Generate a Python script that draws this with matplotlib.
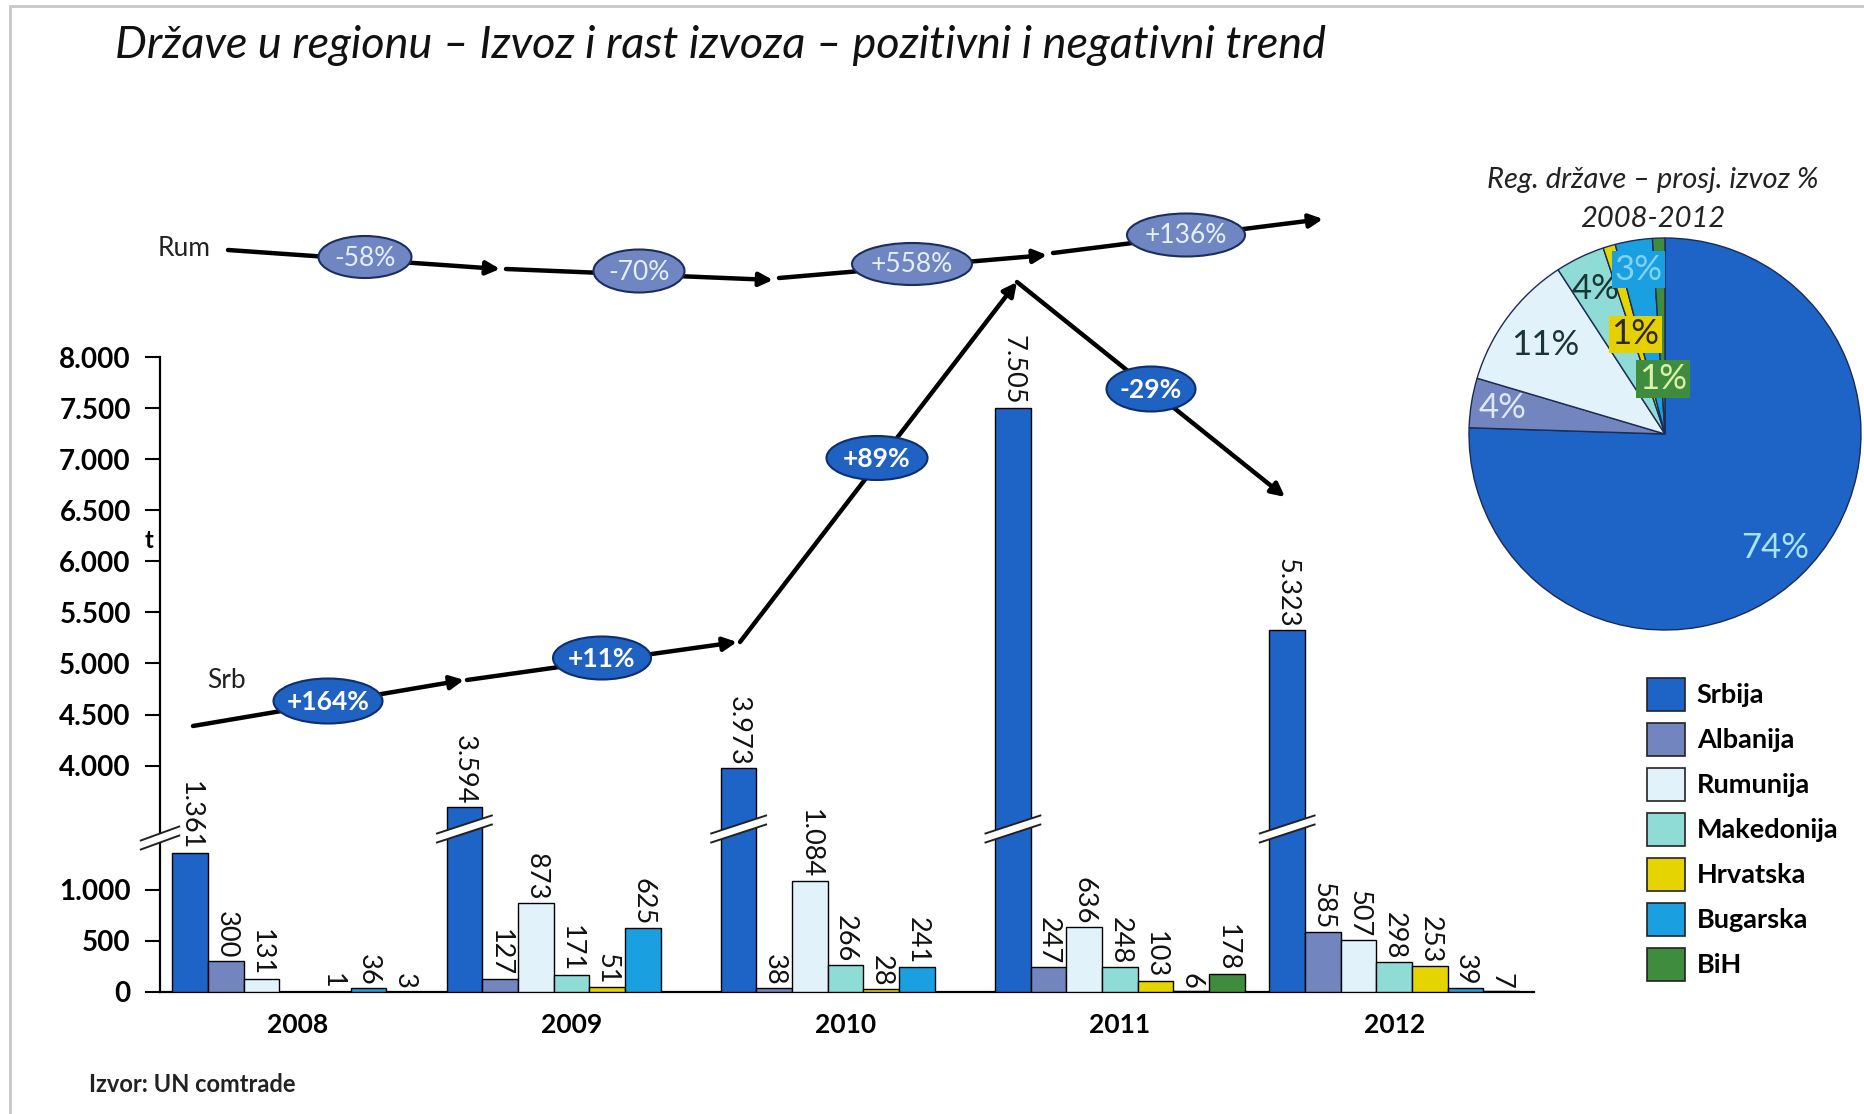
import numpy as np
import matplotlib
matplotlib.use("Agg")
import matplotlib.pyplot as plt
from matplotlib.patches import Patch, Polygon, Rectangle, FancyArrowPatch, Ellipse
import matplotlib.transforms as mtransforms

plt.rcParams['font.family'] = ['Lato', 'DejaVu Sans']

# data
years = ['2008', '2009', '2010', '2011', '2012']
countries = ['Srbija', 'Albanija', 'Rumunija', 'Makedonija', 'Hrvatska', 'Bugarska', 'BiH']
srbija = [1361, 3594, 3973, 7505, 5323]
albanija = [300, 127, 38, 247, 585]
rumunija = [131, 873, 1084, 636, 507]
makedonija = [np.nan, 171, 266, 248, 298]
hrvatska = [1, 51, 28, 103, 253]
bugarska = [36, 625, 241, 6, 39]
bih = [3, np.nan, np.nan, 178, 7]

pie_shares = [74, 4, 11, 4, 1, 3, 1]

srb_growth = ['+164%', '+11%', '+89%', '-29%']
rum_growth = ['-58%', '-70%', '+558%', '+136%']

colors = ['#1E63C6', '#7385BE', '#E2F2FA', '#8FDCD6', '#E6D400', '#1A9FE0', '#3F8C3F']

W, H = 1865, 1114


def fig_xy(px, py):
    # pixel position (top-left origin) -> figure fraction
    return px / W, 1 - py / H


# broken y axis: 0..1500 as is, 3400.. shifted down
LOW, HIGH, SHIFT = 1500, 3400, 1784


def fwd(v):
    return np.interp(v, [-1e5, LOW, HIGH, 1e5], [-1e5, LOW, HIGH - SHIFT, 1e5 - SHIFT])


def inv(d):
    return np.interp(d, [-1e5, LOW, HIGH - SHIFT, 1e5 - SHIFT], [-1e5, LOW, HIGH, 1e5])


def thousands(v):
    return f"{int(v):,}".replace(',', '.')


fig = plt.figure(figsize=(W / 100, H / 100), dpi=100)
fig.patch.set_facecolor('white')
fig.add_artist(Rectangle((10 / W, -0.1), 2, 1.1 - 6 / H, transform=fig.transFigure,
                         fill=False, ec='#C8C8C8', lw=2))

ax = fig.add_axes([160 / W, 1 - 992 / H, (1534 - 160) / W, (992 - 357) / H])
ax.set_yscale('function', functions=(fwd, inv))

series = [srbija, albanija, rumunija, makedonija, hrvatska, bugarska, bih]
x = np.arange(len(years))
w = 0.13
for i, (name, vals, c) in enumerate(zip(countries, series, colors)):
    xs = x + (i - 3) * w
    ax.bar(xs, vals, w, color=c, edgecolor='black', linewidth=1, label=name, zorder=3)
    for xi, v in zip(xs, vals):
        if np.isnan(v):
            continue
        ax.annotate(thousands(v), (xi, v), xytext=(0, 2), textcoords='offset points',
                    rotation=270, ha='center', va='bottom', fontsize=19.5, color='#111111')

ax.set_xlim(-0.5, 4.51)
ax.set_ylim(0, 8000)
yt = [0, 500, 1000, 4000, 4500, 5000, 5500, 6000, 6500, 7000, 7500, 8000]
ax.set_yticks(yt)
ax.set_yticklabels([thousands(v) for v in yt], fontweight='bold', fontsize=20)
ax.yaxis.set_minor_locator(matplotlib.ticker.NullLocator())
ax.set_xticks(x)
ax.set_xticklabels(years, fontweight='bold', fontsize=19)
ax.tick_params(axis='x', length=0, pad=15)
ax.tick_params(axis='y', length=11, width=1.5, pad=10, direction='out')
for s in ['top', 'right']:
    ax.spines[s].set_visible(False)
ax.spines['left'].set_linewidth(1.6)
ax.spines['bottom'].set_linewidth(1.6)

# break marks
bt = mtransforms.blended_transform_factory(ax.transData, ax.transAxes)


def break_mark(xc, yc, half=0.1, rise=0.0283, gap=0.0142):
    pts = [(xc - half, yc - rise / 2 - gap / 2), (xc + half, yc + rise / 2 - gap / 2),
           (xc + half, yc + rise / 2 + gap / 2), (xc - half, yc - rise / 2 + gap / 2)]
    ax.add_patch(Polygon(pts, closed=True, fc='white', ec='none', transform=bt,
                         zorder=6, clip_on=False))
    for a, b in [(pts[0], pts[1]), (pts[3], pts[2])]:
        ax.plot([a[0], b[0]], [a[1], b[1]], color='#222222', lw=1.4, transform=bt,
                zorder=7, clip_on=False)


for xi, v in zip(x - 3 * w, srbija):
    if v > HIGH:
        break_mark(xi, 0.2567)
break_mark(-0.5, 0.2425, half=0.07, rise=0.022)

# trend arrows (layout in pixels)
rum_segs = [((228, 250), (500, 269)), ((506, 269), (773, 280)),
            ((779, 278), (1047, 255)), ((1053, 253), (1323, 219))]
rum_boxes = [(365, 257, 93, 42), (639, 271, 91, 43), (912, 264, 120, 42), (1186, 235, 118, 43)]
srb_segs = [((193, 726), (464, 680)), ((467, 680), (737, 642)),
            ((740, 642), (1017, 282)), ((1017, 282), (1285, 497))]
srb_boxes = [(328, 701, 109, 45), (602, 658, 98, 43), (877, 458, 101, 44), (1151, 389, 89, 45)]

for segs in (rum_segs, srb_segs):
    for a, b in segs:
        fig.add_artist(FancyArrowPatch(fig_xy(*a), fig_xy(*b), transform=fig.transFigure,
                                       arrowstyle='-|>', mutation_scale=20, lw=3.2,
                                       color='black', shrinkA=0, shrinkB=0))


def bubble(box, lab, fc, ec, tc, weight):
    px, py, bw, bh = box
    fig.add_artist(Ellipse(fig_xy(px, py), bw / W, bh / H, transform=fig.transFigure,
                           fc=fc, ec=ec, lw=1.5, zorder=5))
    fig.text(*fig_xy(px, py + 1), lab, ha='center', va='center', fontsize=19, color=tc,
             fontweight=weight, zorder=6)


for box, lab in zip(rum_boxes, rum_growth):
    bubble(box, lab, '#7086C2', '#1C2E60', '#E6EEFA', 'normal')
for box, lab in zip(srb_boxes, srb_growth):
    bubble(box, lab, '#1F62C2', '#0E2E70', 'white', 'bold')

fig.text(*fig_xy(184, 249), 'Rum', ha='center', va='center', fontsize=19, color='#222222')
fig.text(*fig_xy(226, 680), 'Srb', ha='center', va='center', fontsize=19, color='#222222')
fig.text(*fig_xy(149, 541), 't', ha='center', va='center', fontsize=17, fontweight='bold')

# title and source
fig.text(*fig_xy(115, 46), 'Države u regionu – Izvoz i rast izvoza – pozitivni i negativni trend',
         ha='left', va='center', fontsize=32.4, style='italic', color='#111111')
fig.text(*fig_xy(89, 1085), 'Izvor: UN comtrade', ha='left', va='center', fontsize=17,
         fontweight='bold', color='#222222')

# pie
cx, cy, r = 1665, 434, 196
pax = fig.add_axes([(cx - r) / W, 1 - (cy + r) / H, 2 * r / W, 2 * r / H])
wedges, _ = pax.pie(pie_shares, colors=colors, startangle=90, counterclock=False,
                    wedgeprops=dict(edgecolor='#1B2B55', linewidth=1))
pax.set_xlim(-1, 1)
pax.set_ylim(-1, 1)
pax.set_aspect('equal')

lab_r = [0.81, 0.84, 0.76, 0.82, 0.53, 0.85, 0.28]
lab_col = ['#A8E4F2', '#DCE8F8', '#1A3535', '#1A3535', '#2A2A10', '#7FD3F5', '#DDF2A8']
lab_box = [None, None, None, None, '#E6D000', '#1A9FE0', '#3F8C3F']
for wdg, share, rr, tc, bc in zip(wedges, pie_shares, lab_r, lab_col, lab_box):
    mid = np.deg2rad((wdg.theta1 + wdg.theta2) / 2)
    kw = {}
    if bc:
        kw['bbox'] = dict(boxstyle='square,pad=0.08', fc=bc, ec='none')
    pax.text(rr * np.cos(mid), rr * np.sin(mid), f"{share}%", ha='center', va='center',
             fontsize=25, color=tc, **kw)

fig.text(*fig_xy(1653, 180), 'Reg. države – prosj. izvoz %', ha='center', va='center',
         fontsize=21, style='italic', color='#222222')
fig.text(*fig_xy(1653, 219), '2008-2012', ha='center', va='center',
         fontsize=21, style='italic', color='#222222')

handles = [Patch(fc=c, ec='#222222', lw=1.2) for c in colors]
fig.legend(handles, countries, loc='upper left', bbox_to_anchor=fig_xy(1647, 678),
           frameon=False, borderpad=0, borderaxespad=0, handlelength=1.4, handleheight=1.5,
           labelspacing=0.44, handletextpad=0.44, prop=dict(weight='bold', size=19.5))

fig.savefig('out.png', dpi=100)
